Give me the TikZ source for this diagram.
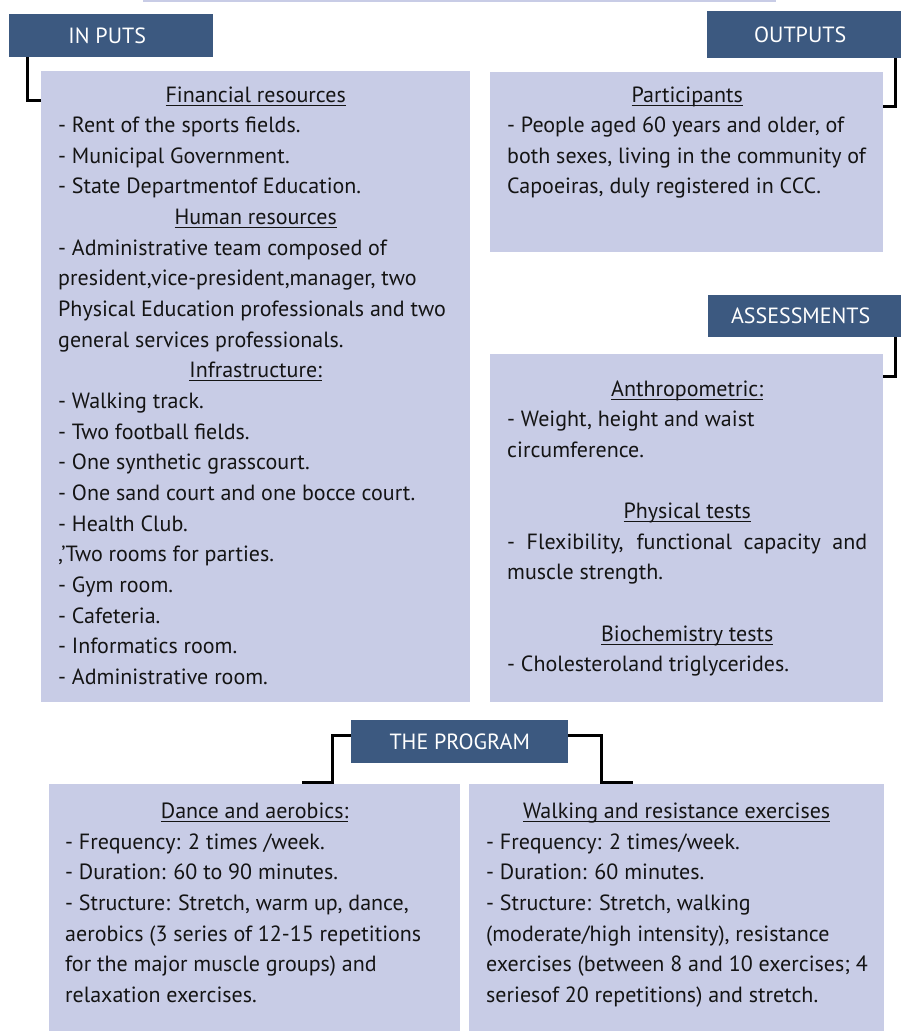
\documentclass[tikz,border=0pt]{standalone}
\usepackage{fontspec}
\setmainfont{PT Sans}
\definecolor{hdrblue}{RGB}{60,89,128}
\definecolor{panelcol}{RGB}{200,204,230}
\definecolor{textcol}{RGB}{20,20,20}
\newcommand\bodyfont{\fontsize{22}{26}\selectfont}
\newcommand\myul[1]{\setbox0=\hbox{#1}\rlap{\rule[-3.5pt]{\wd0}{0.9pt}}\box0}
\newcommand\hd[1]{\makebox[\tw][c]{\myul{#1}}}
\newcommand\just[1]{\makebox[\tw][s]{#1}}
\newcommand\hdrleft[1]{\hspace*{-8pt}#1}
\newcommand\textlines[4]{%
  \foreach \ltext [count=\i] in {#4} {%
    \node[txtline] (#1-\i) at (#2, {#3+30.65*(\i-1)}) {\ltext};}}
\begin{document}
\begin{tikzpicture}[x=1pt,y=-1pt,
  hdr/.style={fill=hdrblue, text=white, font=\bodyfont, inner sep=0, anchor=north west},
  panel/.style={fill=panelcol, anchor=north west, inner sep=0},
  txtline/.style={anchor=base west, inner sep=0, font=\bodyfont, text=textcol},
  conn/.style={draw=black, line width=3pt, line join=miter}]
\useasboundingbox (0,0) rectangle (901,1031);
% top rule
\coordinate (topL) at (143,1);
\coordinate (topR) at (776,1);
\draw[panelcol, line width=2pt] (topL) -- (topR);
% panels
\node[panel, minimum width=429pt, minimum height=631pt] (inbox) at (41,71) {};
\node[panel, minimum width=393pt, minimum height=180pt] (outbox) at (490,72) {};
\node[panel, minimum width=393pt, minimum height=348pt] (assbox) at (490,354) {};
\node[panel, minimum width=411pt, minimum height=247pt] (prgL) at (49,784) {};
\node[panel, minimum width=415pt, minimum height=247pt] (prgR) at (469,784) {};
% headers
\node[hdr, minimum width=204pt, minimum height=43pt] (inhead) at (9,14) {\hdrleft{IN PUTS}};
\node[hdr, minimum width=194pt, minimum height=47pt] (outhead) at (707,11) {\hdrleft{OUTPUTS}};
\node[hdr, minimum width=193pt, minimum height=42pt] (asshead) at (708,295) {\hdrleft{ASSESSMENTS}};
\node[hdr, minimum width=217pt, minimum height=43pt] (proghead) at (351,720) {THE PROGRAM};
% connectors
\coordinate (inx) at (27,100);
\draw[conn] (inhead.south -| inx) |- (inbox.west |- inx);
\coordinate (outx) at (895,106);
\draw[conn] (outhead.south -| outx) |- (outbox.east |- outx);
\coordinate (assx) at (895,376);
\draw[conn] (asshead.south -| assx) |- (assbox.east |- assx);
\coordinate (pl1) at (332,735);
\coordinate (pl2) at (302,782);
\draw[conn] (proghead.west |- pl1) -| (pl2 -| pl1) -- (pl2);
\coordinate (pr1) at (601,735);
\coordinate (pr2) at (633,782);
\draw[conn] (proghead.east |- pr1) -| (pr2 -| pr1) -- (pr2);
% texts
\def\tw{395pt}
\textlines{inp}{58}{102}{{\hd{Financial resources}},
  {- Rent of the sports fields.},
  {- Municipal\  Government.},
  {- State Departmentof Education.},
  {\hd{Human resources}},
  {- Administrative team composed of},
  {president,vice-president,manager, two},
  {Physical Education professionals and two},
  {general services professionals.},
  {\hd{Infrastructure:}},
  {- Walking track.},
  {- Two football fields.},
  {- One synthetic grasscourt.},
  {- One sand court and one bocce court.},
  {- Health Club.},
  {,'Two\  rooms for parties.},
  {- Gym room.},
  {- Cafeteria.},
  {- Informatics room.},
  {- Administrative room.}}
\def\tw{360pt}
\textlines{out}{507}{102}{{\hd{Participants}},
  {- People aged 60 years and older, of},
  {both sexes, living in the community of},
  {Capoeiras, duly registered in CCC.}}
\textlines{ass}{507}{396}{{\hd{Anthropometric:}},
  {- Weight, height and waist},
  {circumference.},
  {},
  {\hd{Physical tests}},
  {\just{- Flexibility, functional capacity and}},
  {muscle strength.},
  {},
  {\hd{Biochemistry tests}},
  {- Cholesteroland triglycerides.}}
\def\tw{379pt}
\textlines{pl}{65}{818.5}{{\hd{Dance and aerobics:}},
  {- Frequency: 2 times /week.},
  {- Duration: 60 to 90 minutes.},
  {- Structure: Stretch, warm up, dance,},
  {aerobics (3 series of 12-15 repetitions},
  {for the major muscle groups) and},
  {relaxation exercises.}}
\def\tw{381pt}
\textlines{pr}{486}{818.5}{{\hd{Walking and resistance exercises}},
  {- Frequency: 2 times/week.},
  {- Duration: 60 minutes.},
  {- Structure: Stretch, walking},
  {(moderate/high intensity), resistance},
  {exercises (between 8 and 10 exercises; 4},
  {seriesof 20 repetitions) and stretch.}}
\end{tikzpicture}
\end{document}
